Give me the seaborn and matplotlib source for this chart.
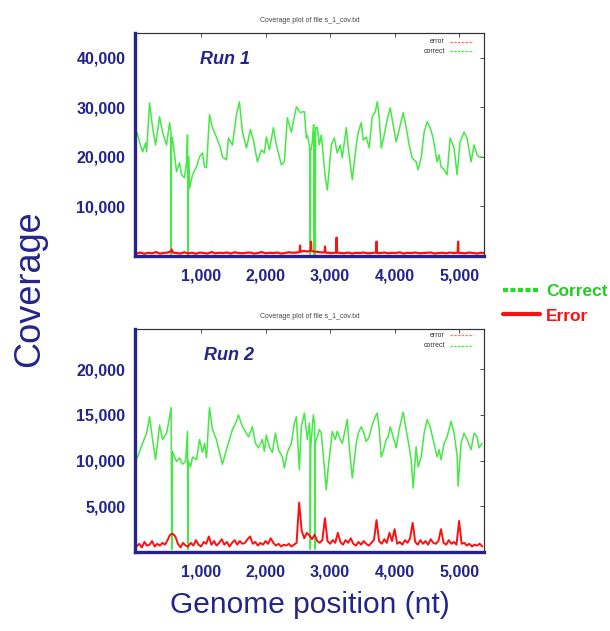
import matplotlib
matplotlib.use("Agg")
import matplotlib.pyplot as plt
from matplotlib.lines import Line2D
from matplotlib.ticker import FuncFormatter
import pandas as pd
import seaborn as sns

sns.set_style("white")
plt.rcParams["font.family"] = ["Liberation Sans", "DejaVu Sans"]

NAVY = "#24248a"
GREEN = "#45e845"
RED = "#ff1010"

# ---------------- Run 1 ----------------
run1_correct_pos = [
    10, 46, 93, 139, 155, 201, 248, 294, 356, 402, 464, 511, 533, 537, 541, 557,
    619, 666, 697, 743, 774, 789, 797, 805, 820, 867, 929, 975, 1022, 1053, 1084,
    1130, 1176, 1238, 1300, 1331, 1393, 1424, 1486, 1548, 1594, 1641, 1703, 1765,
    1811, 1873, 1935, 1981, 2012, 2059, 2121, 2167, 2245, 2291, 2337, 2399, 2477,
    2539, 2570, 2601, 2632, 2647, 2678, 2688, 2693, 2698, 2724, 2745, 2752, 2758,
    2766, 2771, 2776, 2802, 2833, 2864, 2879, 2926, 2957, 2988, 3019, 3065, 3096,
    3111, 3158, 3189, 3251, 3282, 3328, 3344, 3406, 3437, 3483, 3514, 3560, 3607,
    3653, 3700, 3731, 3762, 3793, 3839, 3885, 3932, 3978, 4025, 4071, 4133, 4180,
    4226, 4272, 4334, 4365, 4412, 4458, 4505, 4551, 4598, 4659, 4690, 4721, 4768,
    4814, 4861, 4923, 4969, 5015, 5077, 5124, 5186, 5232, 5279, 5310, 5356,
]
run1_correct_cov = [
    24850, 23000, 21000, 22800, 21000, 30900, 25900, 22400, 28100, 25000, 22400,
    26900, 25000, 300, 24000, 23800,
    17000, 18800, 16400, 15800, 19000, 24400, 300, 20000, 13700, 16400, 18000,
    20000, 20800, 18000, 17800,
    28500, 25900, 24000, 21800, 20000, 19400, 23800, 22400, 28500, 31100, 25000,
    21800, 25500,
    23400, 19000, 21400, 20800, 24000, 21400, 25900, 22400, 18400, 19000, 27900,
    25000, 30100,
    28900, 29100, 29100, 23800, 24400, 22400, 19800, 300, 21000, 23000, 26500,
    300, 25000,
    24000, 300, 25900, 25900, 22400, 24400, 22400, 15800, 13300, 17800, 22400,
    23800, 21800,
    20800, 22400, 19800, 25900, 21800, 17000, 15400, 22400, 25000, 26900, 23400,
    24000, 21800,
    28100, 29100, 31100, 27900, 21800, 24400, 27500, 29900, 26500, 23000, 25500,
    28900, 25900,
    22400, 19800, 19000, 17400, 19800, 25000, 27100, 25900, 23800, 19000, 20400,
    18000, 17400,
    16400, 23800, 21800, 16400, 23000, 25000, 23800, 19000, 22400, 20400, 20000,
    20000,
]

run1_error_pos = [
    0, 60, 120, 180, 240, 300, 360, 420, 480, 530, 545, 560,
    620, 680, 740, 800, 860, 920, 980, 1040, 1100, 1160, 1220, 1280, 1340, 1400,
    1460, 1520, 1580, 1640, 1700, 1760, 1820, 1880, 1940, 2000, 2060, 2120, 2180,
    2240, 2300, 2360, 2420, 2480,
    2528, 2534, 2540, 2600, 2650, 2698, 2704, 2710, 2760, 2820, 2880,
    2915, 2921, 2927, 2980, 3040, 3095, 3101, 3107,
    3160, 3220, 3280, 3340, 3400, 3460, 3520, 3580, 3640, 3714, 3720, 3726,
    3780, 3840, 3900, 3960, 4020, 4080, 4140, 4200, 4260, 4320, 4380, 4440, 4500,
    4560, 4620, 4680, 4740, 4800, 4860, 4920,
    4979, 4985, 4991, 5040, 5100, 5160, 5220, 5280, 5340, 5386,
]
run1_error_cov = [
    500, 700, 450, 650, 550, 800, 500, 600, 700, 900, 1300, 700,
    600, 500, 750, 550, 650, 450, 700, 600, 500, 800, 550, 650, 600, 700,
    500, 750, 600, 550, 650, 700, 500, 600, 800, 550, 650, 600, 700,
    500, 600, 750, 650, 700,
    800, 2100, 900, 1000, 900, 1100, 2900, 1000, 900, 800, 700,
    800, 1900, 700, 650, 600, 700, 3700, 700,
    600, 550, 700, 500, 650, 600, 700, 550, 600, 700, 2900, 650,
    600, 700, 550, 650, 600, 750, 500, 650, 600, 700, 550, 600, 650,
    700, 500, 600, 650, 550, 700, 600,
    700, 2900, 650, 600, 550, 700, 600, 500, 650, 600,
]

# ---------------- Run 2 ----------------
run2_correct_pos = [
    10, 46, 93, 155, 201, 248, 294, 356, 402, 464, 495, 535, 545, 555, 588, 619,
    666, 712, 759, 789, 795, 801, 836, 867, 929, 975, 1022, 1053, 1084, 1130,
    1176, 1238, 1285, 1331, 1393, 1440, 1486, 1548, 1579, 1641, 1687, 1734, 1796,
    1842, 1889, 1950, 1981, 2012, 2059, 2105, 2152, 2198, 2260, 2291, 2337, 2399,
    2446, 2477, 2523, 2554, 2601, 2647, 2678, 2688, 2693, 2700, 2740, 2760, 2765,
    2771, 2802, 2833, 2864, 2910, 2941, 2972, 3019, 3034, 3080, 3111, 3158, 3189,
    3235, 3266, 3297, 3344, 3406, 3437, 3483, 3514, 3560, 3607, 3653, 3700, 3731,
    3762, 3793, 3824, 3870, 3901, 3932, 3978, 4025, 4071, 4133, 4180, 4226, 4257,
    4288, 4334, 4365, 4412, 4458, 4505, 4551, 4598, 4659, 4690, 4721, 4768, 4814,
    4876, 4923, 4969, 4985, 5031, 5077, 5124, 5186, 5232, 5279, 5310, 5356,
]
run2_correct_cov = [
    10290, 11000, 11900, 13000, 14800, 12300, 10100, 13900, 12300, 13000, 14100,
    15800, 300, 11000, 10400, 9900,
    10300, 9600, 9900, 13200, 300, 10000, 9300, 10400, 10100, 12300, 10900,
    11900, 10300, 15800,
    13400, 12300, 10900, 9600, 11200, 12300, 13400, 14300, 15000, 13700, 13200,
    12600, 13700,
    11900, 11400, 12300, 11000, 12800, 11500, 10900, 13000, 11200, 10400, 9200,
    10900, 11900,
    14100, 14800, 9000, 13700, 15200, 12300, 14100, 13000, 300, 11500, 15000,
    14000, 300,
    12000, 12600, 13400, 13000, 9300, 6800, 9300, 12300, 13200, 12300, 13200,
    12300, 11900,
    13400, 14500, 11500, 8100, 11900, 13000, 13700, 13200, 12100, 12600, 13900,
    14800, 15200,
    13400, 10400, 11000, 12300, 12600, 13700, 12600, 11400, 13400, 15300, 13400,
    11500, 10100,
    7000, 11500, 9300, 10400, 13000, 14500, 13700, 12300, 10400, 11200, 10100,
    11900, 12600,
    14300, 13000, 10600, 7200, 11900, 13000, 12300, 11200, 13000, 12600, 11400,
    11900,
]

run2_error_pos = [
    0, 40, 80, 120, 160, 200, 240, 280, 320, 360, 400, 440, 480,
    520, 560, 600, 640, 680, 720, 760,
    800, 840, 880, 920, 960, 1000, 1040, 1080, 1120, 1160,
    1200, 1240, 1280, 1320, 1360, 1400, 1440, 1480, 1520, 1560,
    1600, 1640, 1680, 1720, 1760, 1800, 1840, 1880, 1920, 1960,
    2000, 2040, 2080, 2120, 2160, 2200, 2240, 2280, 2320, 2360,
    2400, 2440, 2480,
    2520, 2560, 2600, 2640, 2680, 2720, 2760, 2800, 2840, 2880,
    2920, 2960, 3000, 3040, 3080, 3120, 3160, 3200, 3240, 3280,
    3320, 3360, 3400, 3440, 3480, 3520, 3560, 3600, 3640, 3680,
    3720, 3760, 3800, 3840, 3880, 3920, 3960, 4000, 4040, 4080,
    4120, 4160, 4200, 4240, 4280, 4320, 4360, 4400, 4440, 4480,
    4520, 4560, 4600, 4640, 4680, 4720, 4760, 4800, 4840, 4880,
    4920, 4960, 5000, 5040, 5080, 5120, 5160, 5200, 5240, 5280,
    5320, 5360,
]
run2_error_cov = [
    600, 900, 500, 1100, 700, 800, 1200, 600, 900, 700, 1000, 800, 1300,
    1900, 2000, 1700, 900, 500, 1000, 700,
    600, 1000, 700, 1300, 800, 600, 1100, 900, 1700, 800,
    1200, 700, 1000, 1400, 800, 1100, 600, 1000, 1300, 800,
    1200, 900, 1000, 1400, 1700, 900, 1100, 700, 1000, 800,
    1200, 900, 1500, 1000, 700, 900, 600, 800, 700, 900,
    600, 800, 1000,
    5400, 2300, 1500, 2100, 1800, 1400, 1900, 1200, 1000, 1300,
    3700, 1200, 900, 1300, 1000, 2100, 1100, 800, 1300, 1000,
    1500, 900, 700, 1100, 800, 1200, 900, 700, 1000, 1300,
    3500, 1200, 900, 1400, 1000, 2100, 1200, 2500, 900, 1100,
    800, 1300, 1000, 1500, 3200, 1100, 800, 1300, 900, 1200,
    800, 1400, 1000, 900, 1200, 2500, 1000, 800, 1300, 900,
    1100, 800, 3400, 900, 1000, 700, 900, 600, 800, 700,
    900, 600,
]

x_ticks = [1000, 2000, 3000, 4000, 5000]
run1_y_ticks = [10000, 20000, 30000, 40000]
run2_y_ticks = [5000, 10000, 15000, 20000]
plot_title = "Coverage plot of file s_1_cov.txt"

comma_fmt = FuncFormatter(lambda v, p: f"{int(round(v)):,}")


def draw_panel(ax, corr_pos, corr_cov, err_pos, err_cov, ymax, yticks,
               run_label, run_xy, key_y, err_lw):
    corr = pd.DataFrame({"position": corr_pos, "coverage": corr_cov})
    err = pd.DataFrame({"position": err_pos, "coverage": err_cov})
    sns.lineplot(data=corr, x="position", y="coverage", ax=ax, color=GREEN,
                 lw=1.1, legend=False)
    sns.lineplot(data=err, x="position", y="coverage", ax=ax, color=RED,
                 lw=err_lw, legend=False)

    ax.set_xlim(-25, 5386)
    ax.set_ylim(0, ymax)
    ax.set_xticks(x_ticks)
    ax.set_yticks(yticks)
    ax.xaxis.set_major_formatter(comma_fmt)
    ax.yaxis.set_major_formatter(comma_fmt)
    ax.set_xlabel("")
    ax.set_ylabel("")
    ax.tick_params(axis="y", direction="out", length=6, width=1.6,
                   color=NAVY, labelcolor=NAVY, labelsize=11.5, pad=1)
    ax.tick_params(axis="x", direction="out", length=4, width=1.6,
                   color=NAVY, labelcolor=NAVY, labelsize=11.5, pad=5)
    for lbl in ax.get_xticklabels() + ax.get_yticklabels():
        lbl.set_fontweight("bold")

    for side in ("left", "bottom"):
        ax.spines[side].set_color(NAVY)
        ax.spines[side].set_linewidth(2.4)
    for side in ("top", "right"):
        ax.spines[side].set_color("#333333")
        ax.spines[side].set_linewidth(0.8)

    # small inward ticks on the frame's top and right edges
    top = ax.secondary_xaxis("top")
    top.set_xticks(x_ticks, labels=[])
    top.tick_params(direction="in", length=3, width=0.6, color="#333333")
    top.spines["top"].set_linewidth(0.8)
    top.spines["top"].set_color("#333333")
    right = ax.secondary_yaxis("right")
    right.set_yticks(yticks, labels=[])
    right.tick_params(direction="in", length=3, width=0.6, color="#333333")
    right.spines["right"].set_linewidth(0.8)
    right.spines["right"].set_color("#333333")

    ax.text(run_xy[0], run_xy[1], run_label, transform=ax.transAxes,
            fontsize=13, fontweight="bold", fontstyle="italic", color=NAVY,
            ha="center", va="center")

    # small key in the top-right corner of each frame
    for (label, col, yy) in (("error", "#ff7070", key_y[0]),
                             ("correct", GREEN, key_y[1])):
        ax.text(0.888, yy, label, transform=ax.transAxes, fontsize=5,
                color="#333333", ha="right", va="center")
        ax.add_line(Line2D([0.903, 0.968], [yy, yy], transform=ax.transAxes,
                           color=col, lw=0.9, ls=(0, (2, 1))))


fig = plt.figure(figsize=(6.1, 6.31), dpi=100)
ax1 = fig.add_axes([0.2213, 0.5943, 0.5721, 0.3534])
ax2 = fig.add_axes([0.2213, 0.1252, 0.5721, 0.3534])

draw_panel(ax1, run1_correct_pos, run1_correct_cov, run1_error_pos,
           run1_error_cov, 45000, run1_y_ticks, "Run 1", (0.258, 0.879),
           (0.960, 0.919), 1.6)
draw_panel(ax2, run2_correct_pos, run2_correct_cov, run2_error_pos,
           run2_error_cov, 24400, run2_y_ticks, "Run 2", (0.269, 0.883),
           (0.973, 0.924), 1.4)

fig.text(0.5074, 1 - 20 / 631, plot_title, fontsize=5, color="#444444",
         ha="center", va="center")
fig.text(0.5074, 1 - 316 / 631, plot_title, fontsize=5, color="#444444",
         ha="center", va="center")

fig.text(0.049, 0.543, "Coverage", rotation=90, fontsize=26, color=NAVY,
         ha="center", va="center")
fig.text(0.508, 0.041, "Genome position (nt)", fontsize=21.5, color=NAVY,
         ha="center", va="center")

# series key on the right
fig.add_artist(Line2D([0.825, 0.885], [0.540, 0.540], color="#22dd22", lw=3,
                      ls=(0, (1.2, 0.6))))
fig.add_artist(Line2D([0.825, 0.885], [0.503, 0.503], color=RED, lw=3))
fig.text(0.895, 0.538, "Correct", fontsize=12.5, fontweight="bold",
         color="#22cc22", ha="left", va="center")
fig.text(0.895, 0.498, "Error", fontsize=12.5, fontweight="bold",
         color=RED, ha="left", va="center")

fig.savefig("out.png", dpi=100)
